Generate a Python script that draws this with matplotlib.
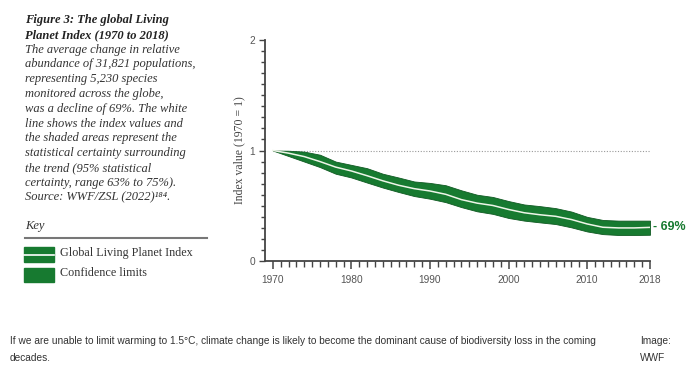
import numpy as np
import matplotlib.pyplot as plt
from matplotlib.patches import Rectangle
from matplotlib.lines import Line2D

# Living Planet Index (1970 = 1)
years = [1970, 1972, 1974, 1976, 1978, 1980, 1982, 1984, 1986, 1988, 1990, 1992,
         1994, 1996, 1998, 2000, 2002, 2004, 2006, 2008, 2010, 2012, 2014, 2016, 2018]
index = [1.00, 0.976, 0.945, 0.90, 0.85, 0.815, 0.772, 0.726, 0.686, 0.655, 0.634, 0.604,
         0.556, 0.524, 0.503, 0.467, 0.437, 0.419, 0.405, 0.376, 0.336, 0.306, 0.300, 0.300, 0.305]
upper = [1.00, 0.998, 0.99, 0.962, 0.90, 0.87, 0.84, 0.79, 0.756, 0.72, 0.707, 0.686,
         0.64, 0.60, 0.58, 0.543, 0.512, 0.497, 0.479, 0.448, 0.40, 0.372, 0.366, 0.366, 0.366]
lower = [1.00, 0.95, 0.90, 0.85, 0.79, 0.756, 0.71, 0.665, 0.625, 0.588, 0.564, 0.533,
         0.488, 0.45, 0.427, 0.39, 0.366, 0.35, 0.335, 0.305, 0.268, 0.244, 0.236, 0.236, 0.238]
decade_ticks = [1970, 1980, 1990, 2000, 2010, 2018]

green = '#177a30'
sans = ['Liberation Sans', 'DejaVu Sans']
serif = ['Liberation Serif', 'DejaVu Serif']

fig = plt.figure(figsize=(6.9, 3.73), dpi=100)
ax = fig.add_axes([0.384, 0.300, 0.558, 0.593])

ax.fill_between(years, lower, upper, color=green, lw=0.6, edgecolor='#0f5a22', zorder=2)
ax.plot(years, index, color='#eef5e8', lw=1.1, zorder=3)
ax.plot([1970, 2018], [1, 1], color='#999999', lw=0.8, ls=(0, (1, 1.5)), zorder=1)

ax.set_xlim(1969.0, 2018)
ax.set_ylim(0, 2)
for s in ['top', 'right']:
    ax.spines[s].set_visible(False)
for s in ['left', 'bottom']:
    ax.spines[s].set_linewidth(1.3)
    ax.spines[s].set_color('#444444')

ax.set_xticks(decade_ticks)
ax.set_xticks(range(1970, 2019), minor=True)
ax.set_yticks([0, 1, 2])
ax.set_yticks(np.arange(0, 2.01, 0.1), minor=True)
ax.tick_params(axis='x', which='major', length=6, width=1.1, color='#444444', pad=4)
ax.tick_params(axis='x', which='minor', length=4, width=1.0, color='#444444')
ax.tick_params(axis='y', which='major', length=4, width=1.0, color='#444444', pad=3)
ax.tick_params(axis='y', which='minor', length=3, width=1.0, color='#444444')
for lab in ax.get_xticklabels() + ax.get_yticklabels():
    lab.set_family(sans)
    lab.set_fontsize(7.3)
    lab.set_color('#555555')

ax.set_ylabel('Index value (1970 = 1)', family=serif, fontsize=8.5, color='#444444', labelpad=3)

ax.annotate('- 69%', xy=(2018, index[-1]), xytext=(2, 0), textcoords='offset points',
            ha='left', va='center', family=sans, fontsize=9, color=green,
            fontweight='bold', annotation_clip=False)

# left-hand description
title = ['Figure 3: The global Living', 'Planet Index (1970 to 2018)']
body = ['The average change in relative', 'abundance of 31,821 populations,',
        'representing 5,230 species', 'monitored across the globe,',
        'was a decline of 69%. The white', 'line shows the index values and',
        'the shaded areas represent the', 'statistical certainty surrounding',
        'the trend (95% statistical', 'certainty, range 63% to 75%).',
        'Source: WWF/ZSL (2022)¹⁸⁴.']
y = 20
for t in title:
    fig.text(25 / 690, 1 - y / 373, t, family=serif, style='italic', fontweight='bold',
             fontsize=9, color='#222222', va='center')
    y += 14.8
for t in body:
    fig.text(25 / 690, 1 - y / 373, t, family=serif, style='italic',
             fontsize=9, color='#333333', va='center')
    y += 14.8

fig.text(25 / 690, 1 - 226 / 373, 'Key', family=serif, style='italic', fontsize=9,
         color='#333333', va='center')
fig.add_artist(Line2D([25 / 690, 207 / 690], [1 - 238 / 373] * 2, color='#777777', lw=1.5))
fig.add_artist(Rectangle((24 / 690, 1 - 262 / 373), 30 / 690, 15 / 373, color=green))
fig.add_artist(Line2D([24 / 690, 54 / 690], [1 - 254.5 / 373] * 2, color='white', lw=1.2))
fig.add_artist(Rectangle((24 / 690, 1 - 282 / 373), 30 / 690, 14 / 373, color=green))
fig.text(60 / 690, 1 - 253 / 373, 'Global Living Planet Index', family=serif,
         fontsize=8.7, color='#333333', va='center')
fig.text(60 / 690, 1 - 273 / 373, 'Confidence limits', family=serif,
         fontsize=8.7, color='#333333', va='center')

# caption
fig.text(10 / 690, 1 - 341 / 373, 'If we are unable to limit warming to 1.5°C, climate change is likely '
         'to become the dominant cause of biodiversity loss in the coming',
         family=sans, fontsize=7.3, color='#333333', va='center')
fig.text(10 / 690, 1 - 358 / 373, 'decades.', family=sans, fontsize=7.3, color='#333333', va='center')
fig.text(640 / 690, 1 - 341 / 373, 'Image:', family=sans, fontsize=7.3, color='#333333', va='center')
fig.text(640 / 690, 1 - 358 / 373, 'WWF', family=sans, fontsize=7.3, color='#333333', va='center')

fig.savefig('out.png', dpi=100)
